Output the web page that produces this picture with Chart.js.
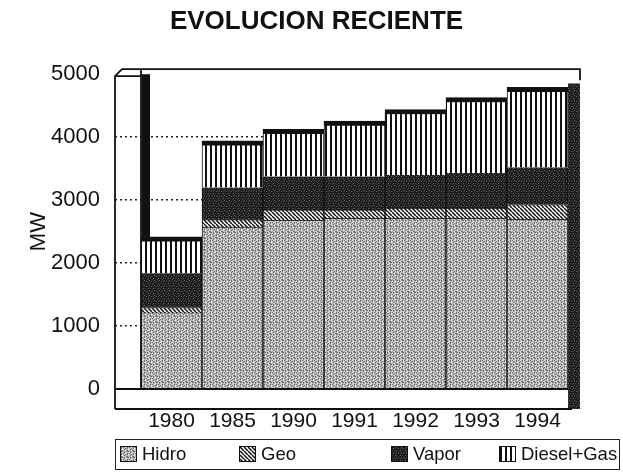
<!DOCTYPE html>
<html><head><meta charset="utf-8">
<script src="https://cdn.jsdelivr.net/npm/chart.js@4/dist/chart.umd.min.js"></script>
<style>
html,body{margin:0;padding:0;background:#fff;}
#wrap{position:relative;width:623px;height:474px;}
#legend{position:absolute;left:115px;top:439px;width:505px;height:31px;border:1.5px solid #222;box-sizing:border-box;font-family:"Liberation Sans",Arial,sans-serif;font-size:18.5px;color:#111;}
.item{position:absolute;top:3px;height:22px;display:flex;align-items:center;white-space:nowrap;}
.item canvas{width:17px;height:16px;border:1px solid #111;box-sizing:border-box;margin-right:5px;}
</style></head><body>
<div id="wrap"><canvas id="c" width="623" height="474"></canvas><div id="legend"></div></div>
<script>
const categories = ['1980','1985','1990','1991','1992','1993','1994'];
const hidro     = [1200, 2560, 2670, 2700, 2700, 2700, 2690];
const geo       = [  95,  130,  175,  145,  175,  175,  240];
const vapor     = [ 545,  510,  530,  530,  525,  555,  590];
const dieselGas = [ 575,  740,  750,  880, 1040, 1200, 1270];
const seriesNames = ['Hidro','Geo','Vapor','Diesel+Gas'];
const yTicks = [0,1000,2000,3000,4000,5000];
const legendLeft = [4, 123, 275, 383];

const FONT = '"Liberation Sans", Arial, sans-serif';

function makeTile(w,h,draw){const c=document.createElement('canvas');c.width=w;c.height=h;const g=c.getContext('2d');draw(g);return c;}
const tiles = {
  hidro: makeTile(6,6,g=>{g.fillStyle='#bababa';g.fillRect(0,0,6,6);
    g.fillStyle='#707070';[[0,0],[0,1],[0,3],[3,2],[3,4],[3,5],[2,0],[5,3],[1,4],[4,1],[0,4]].forEach(([x,y])=>g.fillRect(x,y,1,1));
    g.fillStyle='#ebebeb';[[1,1],[4,0],[4,3],[2,5],[5,5],[1,2]].forEach(([x,y])=>g.fillRect(x,y,1,1));}),
  geo: makeTile(4,4,g=>{g.fillStyle='#fff';g.fillRect(0,0,4,4);g.strokeStyle='#111';g.lineWidth=1.5;
    for(const k of [-4,0,4]){g.beginPath();g.moveTo(k,0);g.lineTo(k+4,4);g.stroke();}}),
  vapor: makeTile(5,5,g=>{g.fillStyle='#1c1c1c';g.fillRect(0,0,5,5);
    g.fillStyle='#666';[[1,1],[3,3],[4,0]].forEach(([x,y])=>g.fillRect(x,y,1,1));
    g.fillStyle='#3c3c3c';[[0,3],[2,4],[3,1]].forEach(([x,y])=>g.fillRect(x,y,1,1));}),
  diesel: makeTile(5,4,g=>{g.fillStyle='#fff';g.fillRect(0,0,5,4);g.fillStyle='#111';g.fillRect(0,0,2,4);})
};
const ctx0 = document.getElementById('c').getContext('2d');
const pats = {};
for (const k in tiles) pats[k] = ctx0.createPattern(tiles[k],'repeat');
const patList = [pats.hidro, pats.geo, pats.vapor, pats.diesel];
const tileList = [tiles.hidro, tiles.geo, tiles.vapor, tiles.diesel];
const seriesData = [hidro, geo, vapor, dieselGas];
const borderW = [
  {left:1,right:1,top:0,bottom:0},
  {left:1,right:1,top:1,bottom:1},
  {left:1,right:1,top:0,bottom:0},
  {left:1,right:1,top:5,bottom:0}
];

const frame = {
  id:'frame',
  beforeDatasetsDraw(chart){
    const {ctx, chartArea:a, scales:{y}} = chart;
    const firstTop = y.getPixelForValue(hidro[0]+geo[0]+vapor[0]+dieselGas[0]);
    ctx.save();
    ctx.fillStyle='#111';
    ctx.fillRect(a.left+1, a.top, 8, firstTop - a.top);
    ctx.restore();
  },
  afterDatasetsDraw(chart){
    const {ctx, chartArea:a, scales:{y}} = chart;
    const wallL = a.left-26, floorB = a.bottom+20, rightB = a.right+12;
    const n = categories.length-1;
    const lastTop = y.getPixelForValue(hidro[n]+geo[n]+vapor[n]+dieselGas[n]);
    ctx.save();
    ctx.fillStyle = pats.vapor;
    ctx.fillRect(a.right, lastTop-4, rightB-a.right, floorB-lastTop+4);
    ctx.fillStyle='#fff';
    ctx.fillRect(wallL, a.bottom, a.right-wallL, floorB-a.bottom);
    ctx.strokeStyle='#111'; ctx.lineWidth=1.8;
    ctx.beginPath();
    ctx.moveTo(wallL, a.bottom); ctx.lineTo(a.right, a.bottom);
    ctx.moveTo(wallL, floorB); ctx.lineTo(a.right+4, floorB);
    ctx.moveTo(wallL, floorB); ctx.lineTo(wallL, a.top+2);
    ctx.lineTo(wallL+7, a.top-5); ctx.lineTo(rightB, a.top-5); ctx.lineTo(rightB, a.top+6);
    ctx.moveTo(wallL, a.top+2); ctx.lineTo(a.left, a.top+2);
    ctx.moveTo(a.left, a.top-5); ctx.lineTo(a.left, a.bottom);
    ctx.stroke();
    ctx.restore();
  }
};

const chart = new Chart(ctx0, {
  type:'bar',
  data:{
    labels: categories,
    datasets: seriesNames.map((name,i)=>({
      label:name, data:seriesData[i], backgroundColor:patList[i],
      borderColor:'#111', borderWidth:borderW[i], borderSkipped:false,
      barPercentage:1, categoryPercentage:1
    }))
  },
  options:{
    responsive:false, animation:false,
    layout:{padding:{left:10,right:0,top:0,bottom:0}},
    plugins:{
      legend:{display:false}, tooltip:{enabled:false},
      title:{display:true, text:'EVOLUCION RECIENTE', color:'#111',
        font:{family:FONT, size:26, weight:'bold'}, padding:{top:6,bottom:37}}
    },
    scales:{
      x:{stacked:true, grid:{display:false, drawTicks:false}, border:{display:false},
        ticks:{font:{family:FONT,size:21}, color:'#111', padding:20},
        afterFit(s){s.height=85;}},
      y:{stacked:true, min:0, max:5000,
        afterBuildTicks(s){s.ticks = yTicks.map(v=>({value:v}));},
        grid:{color:c=> (c.tick && (c.tick.value===0||c.tick.value===5000)) ? 'rgba(0,0,0,0)' : '#222',
          tickColor:c=> (c.tick && (c.tick.value===0||c.tick.value===5000)) ? 'rgba(0,0,0,0)' : '#222',
          lineWidth:1.5, drawTicks:true, tickLength:26, tickBorderDash:[2,3], tickWidth:1.5},
        border:{display:false, dash:[2,3]},
        ticks:{font:{family:FONT,size:22}, color:'#111', padding:15, callback:v=>String(v)},
        title:{display:true, text:'MW', color:'#111', font:{family:FONT,size:22}, padding:{top:16,bottom:0}},
        afterFit(s){s.width=131;}},
      y2:{position:'right', display:true, grid:{display:false, drawTicks:false}, border:{display:false},
        ticks:{display:false}, afterFit(s){s.width=55;}}
    }
  },
  plugins:[frame]
});

const lg = document.getElementById('legend');
seriesNames.forEach((name,i)=>{
  const it = document.createElement('div'); it.className='item'; it.style.left=legendLeft[i]+'px';
  const sw = document.createElement('canvas'); sw.width=15; sw.height=14;
  const g = sw.getContext('2d'); g.fillStyle = g.createPattern(tileList[i],'repeat'); g.fillRect(0,0,15,14);
  const tx = document.createElement('span'); tx.textContent = name;
  it.appendChild(sw); it.appendChild(tx); lg.appendChild(it);
});
</script></body></html>
